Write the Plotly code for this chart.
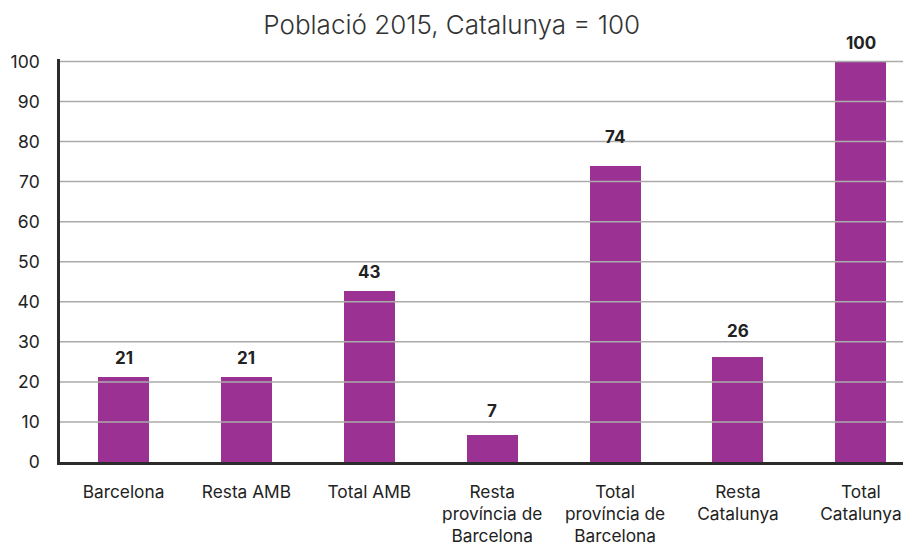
import plotly.graph_objects as go

categories = ["Barcelona", "Resta AMB", "Total AMB", "Resta<br>província de<br>Barcelona",
              "Total<br>província de<br>Barcelona", "Resta<br>Catalunya", "Total<br>Catalunya"]
values = [21.2, 21.2, 42.6, 6.7, 74.0, 26.3, 100.0]
labels = ["21", "21", "43", "7", "74", "26", "100"]
y_ticks = [0, 10, 20, 30, 40, 50, 60, 70, 80, 90, 100]

label_offsets = [19, 19, 19, 24, 29, 26, 18]  # style: pixel shift of value labels

BAR = "#9b3293"
FONT = "Inter"

fig = go.Figure()
fig.add_trace(go.Bar(
    x=list(range(len(categories))), y=values,
    marker=dict(color=BAR, line=dict(width=0)),
    width=0.415, hoverinfo="skip",
))

for i, (v, t) in enumerate(zip(values, labels)):
    fig.add_annotation(x=i, y=v, text=t, showarrow=False, yshift=label_offsets[i],
                       font=dict(family=FONT, size=17, color="#222222", weight="bold"),
                       xref="x", yref="y")

for t in y_ticks[1:]:
    fig.add_shape(type="line", xref="paper", yref="y", x0=0, x1=1, y0=t, y1=t,
                  line=dict(color="#aaaaaa", width=1.5), layer="above")

fig.update_layout(
    width=911, height=544,
    margin=dict(l=52, r=0, t=51, b=90, autoexpand=False),
    paper_bgcolor="white", plot_bgcolor="white",
    showlegend=False,
    title=dict(text="Població 2015, Catalunya = 100", x=0.487, xanchor="center",
               y=0.969, yanchor="middle", automargin=False,
               font=dict(family=FONT, size=26, color="#333333", weight=300)),
    font=dict(family=FONT, color="#222222"),
    bargap=0,
)
fig.update_xaxes(
    tickmode="array", tickvals=list(range(len(categories))), ticktext=categories,
    range=[-0.517, 6.473], showgrid=False, zeroline=False,
    showline=True, linecolor="#2b2b2b", linewidth=2.5,
    ticks="", tickfont=dict(family=FONT, size=17.3, color="#222222"),
    ticklabelstandoff=12, fixedrange=True, automargin=False,
)
fig.update_yaxes(
    range=[0, 100.6], tickmode="array", tickvals=y_ticks,
    showgrid=False, zeroline=False,
    showline=True, linecolor="#2b2b2b", linewidth=2.5,
    ticks="", tickfont=dict(family=FONT, size=17.5, color="#222222"),
    ticklabelstandoff=14, fixedrange=True, automargin=False,
)

fig.write_html("out.html")
